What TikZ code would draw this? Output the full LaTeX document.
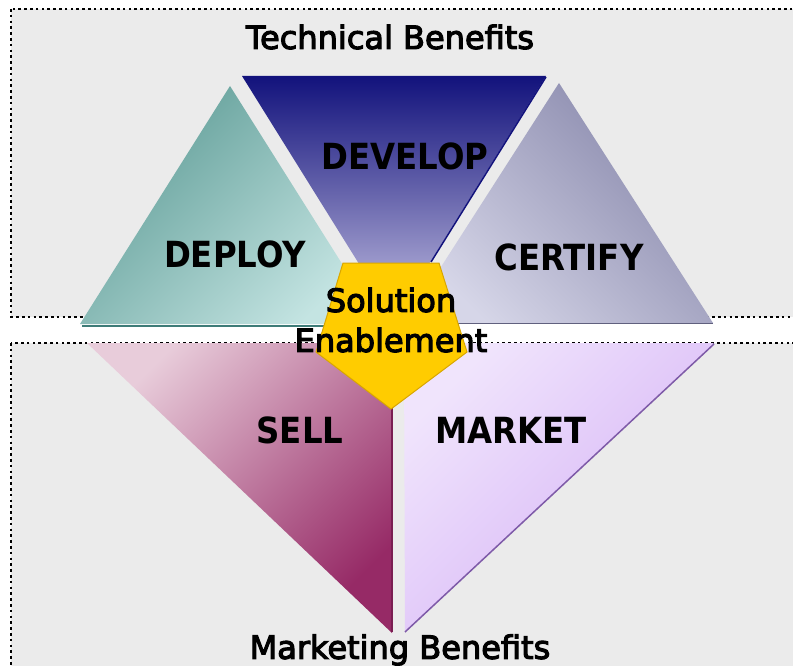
\documentclass[tikz,border=0pt]{standalone}
\usepackage{fontspec}
\setmainfont{DejaVu Sans Condensed}
\newfontfamily\titlefont{DejaVu Sans}[FakeBold=3.5]
\definecolor{panelgray}{HTML}{EBEBEB}
\definecolor{deployA}{HTML}{5E9C96}
\definecolor{deployB}{HTML}{C4E4E2}
\definecolor{deployE}{HTML}{3E7C78}
\definecolor{devA}{HTML}{12127C}
\definecolor{devM}{HTML}{6A68AE}
\definecolor{devB}{HTML}{C6C2E4}
\definecolor{certA}{HTML}{8686AA}
\definecolor{certB}{HTML}{D6D6E8}
\definecolor{certE}{HTML}{60607E}
\definecolor{sellA}{HTML}{E8CCDA}
\definecolor{sellB}{HTML}{962A66}
\definecolor{sellE}{HTML}{7A1E52}
\definecolor{mktA}{HTML}{F0E4FC}
\definecolor{mktB}{HTML}{D4B0F6}
\definecolor{mktE}{HTML}{7E5AA8}
\definecolor{penta}{HTML}{FFCC00}
\definecolor{pentaE}{HTML}{D9A600}
\tikzset{
  panel/.style={fill=panelgray, draw=black, line width=2.6pt, dash pattern=on 2.6pt off 3.2pt},
  bigtitle/.style={font=\titlefont\fontsize{32}{36}\selectfont, text=black, inner sep=0pt},
  steplabel/.style={font=\bfseries\fontsize{36}{40}\selectfont, text=black, inner sep=0pt},
  centerlabel/.style={font=\titlefont\fontsize{32}{40}\selectfont, text=black, inner sep=0pt, align=center},
}
\begin{document}
\begin{tikzpicture}[x=1pt,y=-1pt]
\useasboundingbox (0,0) rectangle (793,666);
\clip (0,0) rectangle (793,666);
\fill[white] (0,0) rectangle (793,666);
% panels
\draw[panel] (11,9) rectangle (810,317);
\draw[panel] (11,343) rectangle (810,690);
% DEPLOY
\shade[top color=deployA, bottom color=deployB, shading angle=45]
  (230,86) -- (80,324) -- (380,324) -- cycle;
\draw[deployE, line width=2pt] (82,325.5) -- (378,325.5);
% DEVELOP
\shade[top color=devA, bottom color=devB, middle color=devM]
  (242,76) -- (546,76) -- (394,320) -- cycle;
\draw[devA, line width=1.5pt] (546,77) -- (431,262);
% CERTIFY
\shade[top color=certA, bottom color=certB, shading angle=-45]
  (559,83) -- (405,323) -- (713,323) -- cycle;
\draw[certE, line width=1.2pt] (440,323.6) -- (713,323.6);
% SELL
\shade[top color=sellA, bottom color=sellB, shading angle=45]
  (87,343) -- (392,343) -- (392,633) -- cycle;
\draw[sellE, line width=1.5pt] (392,400) -- (392,632);
% MARKET
\shade[top color=mktA, bottom color=mktB, shading angle=45]
  (404,343) -- (714,343) -- (405,632) -- cycle;
\draw[mktE, line width=1.5pt] (714,344) -- (405,632);
% Pentagon
\filldraw[fill=penta, draw=pentaE, line width=1pt]
  (343,263) -- (439,263) -- (467,352) -- (391,409) -- (316,352) -- cycle;
% Labels
\node[bigtitle] (tech) at (390,37) {Technical Benefits};
\node[bigtitle] (mkt) at (400,650) {Marketing Benefits};
\node[steplabel] (deploy) at (235,254) {DEPLOY};
\node[steplabel] (develop) at (405,156) {DEVELOP};
\node[steplabel] (certify) at (569,257) {CERTIFY};
\node[steplabel] (sell) at (300,430) {SELL};
\node[steplabel] (market) at (511,430) {MARKET};
\node[centerlabel] (sol) at (391,320) {Solution\\Enablement};
\end{tikzpicture}
\end{document}
